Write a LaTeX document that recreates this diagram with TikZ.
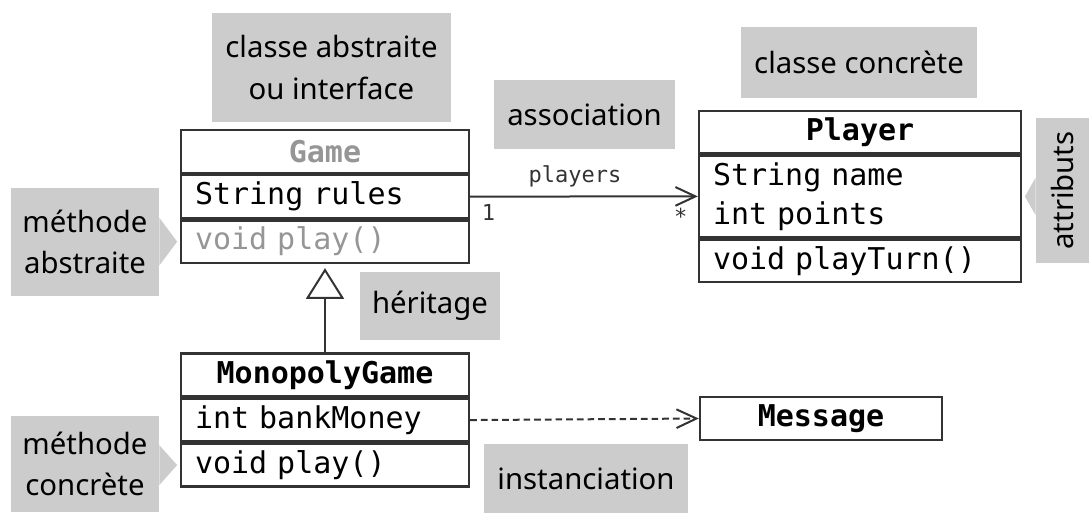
\documentclass[tikz,border=0pt]{standalone}
\usepackage{fontspec}
\setmainfont{Noto Sans}
\newfontfamily\umlfont{DejaVu Sans Mono}
\usepackage{tikz}
\usetikzlibrary{arrows.meta,positioning,calc}
\definecolor{notegray}{RGB}{204,204,204}
\definecolor{linegray}{RGB}{51,51,51}
\definecolor{absgray}{RGB}{150,150,150}
\tikzset{
  note/.style={fill=notegray, inner sep=0pt, align=center,
    font=\fontsize{22}{31}\selectfont},
  umlbox/.style={draw=linegray, line width=1.8pt, fill=white, inner ysep=0pt,
    inner xsep=10.5pt, font=\umlfont\fontsize{22.5}{29}\selectfont},
  umlhead/.style={umlbox, minimum height=32pt, font=\umlfont\bfseries\fontsize{22.5}{29}\selectfont},
  umlrow/.style={umlbox, minimum height=32pt, align=left},
  small/.style={font=\umlfont\fontsize{16.5}{18}\selectfont, inner sep=2pt},
  barb/.style={-{Straight Barb[length=15pt,width=14pt,line width=1.5pt]}}
}
\begin{document}
\begin{tikzpicture}[x=0.75pt,y=-0.75pt]
\useasboundingbox (0,0) rectangle (1089,515);
% comment boxes
\node[note, minimum width=179pt, minimum height=82pt] (abstract) at (331.5,67.5) {classe abstraite\\ou interface};
\node[note, minimum width=177pt, minimum height=53pt] (concrete) at (859,62.5) {classe concrète};
\node[note, minimum width=136pt, minimum height=52pt] (assoc) at (584.5,114.5) {association};
\node[note, minimum width=109pt, minimum height=40pt, rotate=90] (attr) at (1062.5,190.5) {attributs};
\node[note, minimum width=111pt, minimum height=81pt] (absmeth) at (85,242) {méthode\\abstraite};
\node[note, minimum width=105pt, minimum height=51pt] (inherit) at (430,306) {héritage};
\node[note, minimum width=111pt, minimum height=72pt] (concmeth) at (85,464) {méthode\\concrète};
\node[note, minimum width=153pt, minimum height=52pt] (inst) at (586,478.5) {instanciation};

% classes
\node[umlhead, minimum width=216pt, text=absgray] (game) at (325,151.5) {Game};
\node[umlrow, text width=195pt, below=0pt of game] (game-a) {String rules};
\node[umlrow, text width=195pt, below=0pt of game-a, text=absgray] (game-m) {void play()};

\node[umlhead, minimum width=216pt] (mono) at (325,375) {MonopolyGame};
\node[umlrow, text width=195pt, below=0pt of mono] (mono-a) {int bankMoney};
\node[umlrow, text width=195pt, below=0pt of mono-a] (mono-m) {void play()};

\node[umlhead, minimum width=241.5pt, minimum height=31.5pt] (player) at (860,132) {Player};
\node[umlrow, text width=220.5pt, minimum height=61.5pt, below=0pt of player] (player-a) {String name\\int points};
\node[umlrow, text width=220.5pt, minimum height=31.5pt, below=0pt of player-a] (player-m) {void playTurn()};

\node[umlhead, minimum width=181.5pt] (msg) at (821,418.5) {Message};

% connectors
\draw[linegray, line width=1.5pt, barb]
  (game-a.east) -- node[small, above, pos=0.46, yshift=4pt] {players}
  node[small, pos=0, below right, xshift=6pt, yshift=-3pt] {1}
  node[small, pos=1, below left, xshift=-5pt, yshift=-6pt] {*} (player-a.west);
\draw[linegray, line width=1.5pt, dash pattern=on 5pt off 3pt, barb] (mono-a.east) -- (msg.west);
\draw[linegray, line width=1.5pt, -{Triangle[open,length=23pt,width=28.5pt,fill=white]}]
  (mono.north) -- ([yshift=-3pt]game-m.south);

% pointers of the comment boxes
\fill[notegray] ($(absmeth.east |- game-m.west)+(0,18pt)$) -- ([xshift=-2pt]game-m.west)
  -- ($(absmeth.east |- game-m.west)+(0,-18pt)$) -- cycle;
\fill[notegray] ($(concmeth.east |- mono-m.west)+(0,15pt)$) -- ([xshift=-2pt]mono-m.west)
  -- ($(concmeth.east |- mono-m.west)+(0,-15pt)$) -- cycle;
\fill[notegray] ($(attr.north |- player-a.east)+(0,14pt)$) -- ([xshift=2pt]player-a.east)
  -- ($(attr.north |- player-a.east)+(0,-14pt)$) -- cycle;
\end{tikzpicture}
\end{document}
